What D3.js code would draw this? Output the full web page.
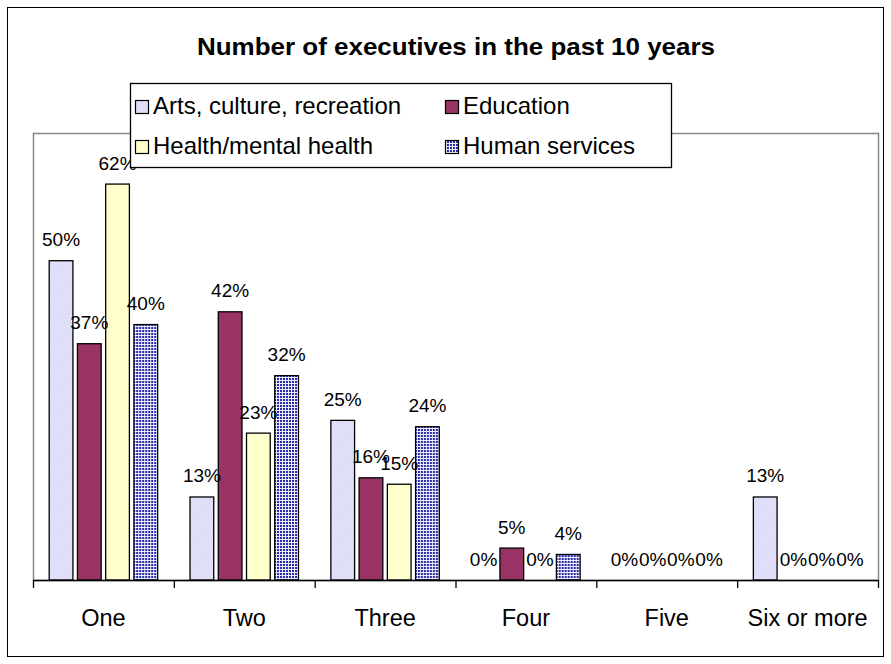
<!DOCTYPE html>
<html>
<head>
<meta charset="utf-8">
<script src="https://cdn.jsdelivr.net/npm/d3@7"></script>
<style>
  html, body { margin: 0; padding: 0; background: #fff; }
  svg { display: block; font-family: "Liberation Sans", Arial, sans-serif; }
</style>
</head>
<body>
<svg id="chart" width="891" height="664"></svg>
<script>
const categories = ["One", "Two", "Three", "Four", "Five", "Six or more"];
const seriesNames = ["Arts, culture, recreation", "Education", "Health/mental health", "Human services"];
const artsValues = [0.50, 0.13, 0.25, 0.00, 0.00, 0.13];
const educationValues = [0.37, 0.42, 0.16, 0.05, 0.00, 0.00];
const healthValues = [0.62, 0.23, 0.15, 0.00, 0.00, 0.00];
const humanValues = [0.40, 0.32, 0.24, 0.04, 0.00, 0.00];
const titleText = "Number of executives in the past 10 years";

const seriesValues = [artsValues, educationValues, healthValues, humanValues];
const fills = ["url(#artsPat)", "#993366", "#ffffcc", "url(#humanPat)"];

const svg = d3.select("#chart");
const defs = svg.append("defs");

// light lavender fine hatch
const ap = defs.append("pattern").attr("id", "artsPat").attr("patternUnits", "userSpaceOnUse")
  .attr("width", 3).attr("height", 3);
ap.append("rect").attr("width", 3).attr("height", 3).attr("fill", "#e4e4fb");
ap.append("path").attr("d", "M0,3 L3,0").attr("stroke", "#d0d0f0").attr("stroke-width", 0.8);

// blue grid pattern
const hp = defs.append("pattern").attr("id", "humanPat").attr("patternUnits", "userSpaceOnUse")
  .attr("width", 3).attr("height", 3);
hp.append("rect").attr("width", 3).attr("height", 3).attr("fill", "#eef0ff");
hp.append("rect").attr("width", 2).attr("height", 2).attr("fill", "#2b2ba6");

// outer border
svg.append("rect").attr("x", 7.5).attr("y", 7.5).attr("width", 876).attr("height", 649)
  .attr("fill", "#fff").attr("stroke", "#000").attr("stroke-width", 1);

const plotL = 33, plotR = 878, plotT = 133, plotB = 580;

const x0 = d3.scaleBand().domain(categories).range([plotL, plotR])
  .paddingInner(0.23).paddingOuter(0.115);
const x1 = d3.scaleBand().domain(seriesNames).range([0, x0.bandwidth()]).paddingInner(0.16);
const y = d3.scaleLinear().domain([0, 0.7]).range([plotB, plotT]);

// plot area border (gray)
svg.append("rect").attr("x", plotL + 0.5).attr("y", plotT + 0.5)
  .attr("width", plotR - plotL).attr("height", plotB - plotT)
  .attr("fill", "none").attr("stroke", "#888").attr("stroke-width", 1.5);

// bars
const groups = svg.append("g").selectAll("g").data(categories).join("g")
  .attr("transform", d => `translate(${x0(d)},0)`);

groups.selectAll("rect").data((c, ci) => seriesNames.map((s, si) => ({ s, si, v: seriesValues[si][ci] })))
  .join("rect")
  .attr("x", d => x1(d.s))
  .attr("y", d => y(d.v))
  .attr("width", x1.bandwidth())
  .attr("height", d => y(0) - y(d.v))
  .attr("fill", d => fills[d.si])
  .attr("stroke", d => d.v > 0 ? "#000" : "none")
  .attr("stroke-width", 1.3);

const fmt = d3.format(".0%");
groups.selectAll("text").data((c, ci) => seriesNames.map((s, si) => ({ s, si, v: seriesValues[si][ci] })))
  .join("text")
  .attr("x", d => x1(d.s) + x1.bandwidth() / 2)
  .attr("y", d => y(d.v) - 14.5)
  .attr("text-anchor", "middle")
  .attr("font-size", 19)
  .attr("fill", "#000")
  .text(d => fmt(d.v));

// x axis
const xAxisG = svg.append("g").attr("transform", `translate(0,${plotB})`);
xAxisG.append("line").attr("x1", plotL).attr("x2", plotR).attr("y1", 0.5).attr("y2", 0.5)
  .attr("stroke", "#000").attr("stroke-width", 1.3);
const tickPos = categories.map(c => x0(c) - x0.step() * x0.paddingInner() / 2).concat([plotR]);
tickPos[0] = plotL;
xAxisG.selectAll("line.tick").data(tickPos).join("line").attr("class", "tick")
  .attr("x1", d => d + 0.5).attr("x2", d => d + 0.5).attr("y1", 0).attr("y2", 8)
  .attr("stroke", "#000").attr("stroke-width", 1.3);
xAxisG.selectAll("text").data(categories).join("text")
  .attr("x", d => x0(d) + x0.bandwidth() / 2)
  .attr("y", 46)
  .attr("text-anchor", "middle")
  .attr("font-size", 23.5)
  .text(d => d);

// title
svg.append("text").attr("x", 456).attr("y", 55).attr("text-anchor", "middle")
  .attr("font-size", 24).attr("font-weight", "bold").attr("textLength", 518)
  .attr("lengthAdjust", "spacingAndGlyphs").text(titleText);

// legend
const lg = svg.append("g");
lg.append("rect").attr("x", 130.5).attr("y", 83.5).attr("width", 541).attr("height", 84)
  .attr("fill", "#fff").attr("stroke", "#000").attr("stroke-width", 1.3);
const legendPos = [[135, 114], [445, 114], [135, 154], [445, 154]];
seriesNames.forEach((s, i) => {
  const [lx, ly] = legendPos[i];
  lg.append("rect").attr("x", lx + 0.5).attr("y", ly - 13.5).attr("width", 13).attr("height", 13)
    .attr("fill", fills[i]).attr("stroke", "#000").attr("stroke-width", 1.2);
  lg.append("text").attr("x", lx + 18).attr("y", ly).attr("font-size", 24).text(s);
});
</script>
</body>
</html>
